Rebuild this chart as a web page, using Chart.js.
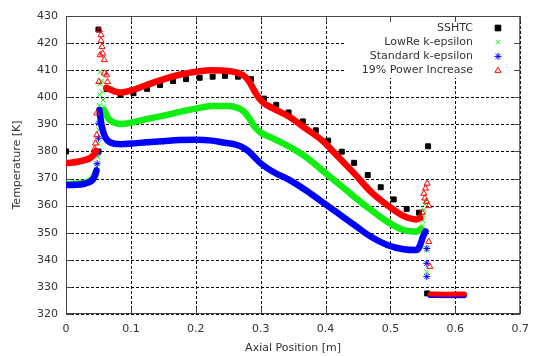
<!DOCTYPE html>
<html>
<head>
<meta charset="utf-8">
<script src="https://cdn.jsdelivr.net/npm/chart.js@4.4.1/dist/chart.umd.min.js"></script>
<style>
  body { margin: 0; background: #fff; }
</style>
</head>
<body>
<canvas id="myChart" width="538" height="356"></canvas>
<script>
// axis ticks
var xTicks = [0, 0.1, 0.2, 0.3, 0.4, 0.5, 0.6, 0.7]
var yTicks = [320, 330, 340, 350, 360, 370, 380, 390, 400, 410, 420, 430]

var seriesNames = ['SSHTC', 'LowRe k-epsilon', 'Standard k-epsilon', '19% Power Increase']

// SSHTC (measured points)
var sshtc = [[0,380],[0.05,380],[0.05,425],[0.063,403],[0.084,400.8],[0.104,401.5],[0.125,403.1],
    [0.145,404.5],[0.165,406],[0.185,406.7],[0.206,407.2],[0.226,407.6],[0.245,407.9],[0.265,407.6],
    [0.285,406.7],[0.305,399.5],[0.324,397.2],[0.343,394.4],[0.365,391.1],[0.385,387.8],[0.404,384],
    [0.425,379.9],[0.444,375.8],[0.465,371.3],[0.485,366.8],[0.505,362.3],[0.525,358.8],[0.544,357.4],
    [0.558,381.9],[0.5565,327.6]]

// LowRe k-epsilon
var lowReLineA = [[0,367.9],[0.02,368.2],[0.035,369],[0.042,370.5],[0.046,372.5]]
var lowReMarks = [[0.0475,374.4],[0.049,378],[0.05,383],[0.0505,388],[0.051,392],[0.0515,397],[0.052,401],
    [0.0525,405],[0.053,409.4],[0.055,406],[0.056,402],[0.057,399],[0.058,396.5]]
var lowReLineB = [[0.059,395.3],[0.065,392.2],[0.075,390.6],[0.085,390.1],[0.1,390.6],[0.125,392],[0.15,393.2],
    [0.175,394.6],[0.2,395.8],[0.225,396.8],[0.25,396.8],[0.265,396],[0.275,394.5],[0.283,392],[0.29,389.3],
    [0.3,387],[0.319,384.8],[0.344,381.8],[0.369,378.1],[0.394,373.2],[0.419,368.3],[0.444,363.3],[0.47,358.4],
    [0.495,354.1],[0.52,351],[0.54,350.4],[0.547,351.5]]
var lowReEnd = [[0.549,352.5],[0.55,354.5],[0.551,356.5],[0.552,358.5],[0.553,360.5],[0.554,361.5],[0.556,343.6],[0.556,335.6]]
var lowReFlat = [[0.561,327.1],[0.614,327.1]]

// Standard k-epsilon
var stdLineA = [[0,367.6],[0.015,367.7],[0.027,368],[0.035,368.6],[0.041,369.5],[0.045,371.3],[0.047,373]]
var stdMarks = [[0.048,375.5],[0.049,379.5],[0.05,384.9],[0.0505,390.4]]
var stdLineB = [[0.0515,395.3],[0.055,389.5],[0.06,385.5],[0.068,383.4],[0.085,382.7],[0.1,382.9],[0.125,383.4],
    [0.15,383.8],[0.175,384.2],[0.2,384.3],[0.225,384],[0.245,383.2],[0.26,382.6],[0.27,381.8],[0.28,380.3],
    [0.29,378],[0.3,375.6],[0.319,372.5],[0.344,369.5],[0.369,365.8],[0.394,361.5],[0.419,357.2],[0.444,352.9],
    [0.47,348.5],[0.495,345.5],[0.52,343.9],[0.54,343.6],[0.545,345],[0.55,348.5],[0.554,350.5]]
var stdEnd = [[0.556,344.2],[0.556,338.7],[0.556,333.8]]
var stdFlat = [[0.561,326.8],[0.614,326.7]]

// 19% Power Increase
var powLineA = [[0,375.7],[0.01,375.9],[0.02,376.3],[0.03,376.9],[0.038,377.7],[0.043,378.8],[0.046,380.2]]
var powMarks = [[0.044,381],[0.0455,383],[0.0475,386.1],[0.0475,394.1],[0.0505,405.7],[0.0525,415.6],[0.0515,424.8],
    [0.054,423],[0.054,420.9],[0.0555,418.7],[0.0565,416.2],[0.059,413.8],[0.059,408.9],[0.0626,408.2],[0.064,405.7]]
var powLineB = [[0.062,403.5],[0.075,402.2],[0.085,401.8],[0.1,402.5],[0.125,404.6],[0.15,406.6],[0.175,408.3],
    [0.2,409.4],[0.225,410],[0.25,409.7],[0.265,409],[0.275,407.8],[0.283,405.5],[0.29,402.5],[0.297,399.8],
    [0.305,397.8],[0.319,395.9],[0.344,392.8],[0.369,388.5],[0.394,384.2],[0.419,378.1],[0.444,371.9],[0.47,365.1],
    [0.495,360.2],[0.52,356.2],[0.54,354.9],[0.546,355.5]]
var powEnd = [[0.549,357.5],[0.5515,364.5],[0.553,362.7],[0.554,366.4],[0.5556,361.5],[0.5566,368.2],[0.559,359.9],
    [0.559,346.7],[0.5606,337.5]]
var powFlat = [[0.5615,327.4],[0.585,327.3],[0.614,327.4]]

var RED = '#ff0000', GREEN = '#11ee11', BLUE = '#0000ff', BLACK = '#000000'

function pts(arr) {
    return arr.map(p => ({ x: p[0], y: p[1] }))
}

function band(arr, color, order, w) {
    return {
        data: pts(arr), showLine: true, borderColor: color, borderWidth: w || 6.5,
        borderCapStyle: 'round', borderJoinStyle: 'round', cubicInterpolationMode: 'monotone',
        pointRadius: 0, order: order
    }
}

function marks(arr, color, style, order, fill) {
    return {
        data: pts(arr), showLine: false, pointStyle: style, pointRadius: 3.5,
        pointBorderColor: color, pointBackgroundColor: fill || 'rgba(0,0,0,0)',
        pointBorderWidth: 1, order: order
    }
}

var legendItems = [
    { text: seriesNames[0], style: 'rect', color: BLACK, fill: BLACK, r: 4 },
    { text: seriesNames[1], style: 'crossRot', color: GREEN, fill: GREEN, r: 3 },
    { text: seriesNames[2], style: 'star', color: BLUE, fill: BLUE, r: 3.5 },
    { text: seriesNames[3], style: 'triangle', color: RED, fill: 'rgba(0,0,0,0)', r: 3.5 }
]

var frame = {
    id: 'frame',
    beforeDatasetsDraw(chart) {
        var ctx = chart.ctx, a = chart.chartArea
        var xs = chart.scales.x, ys = chart.scales.y
        ctx.save()
        // dashed grid
        ctx.strokeStyle = '#000'
        ctx.lineWidth = 1
        ctx.setLineDash([3, 2])
        ctx.beginPath()
        xTicks.forEach(v => {
            var px = Math.round(xs.getPixelForValue(v)) + 0.5
            ctx.moveTo(px, a.top); ctx.lineTo(px, a.bottom)
        })
        yTicks.forEach(v => {
            var py = Math.round(ys.getPixelForValue(v)) + 0.5
            ctx.moveTo(a.left, py); ctx.lineTo(a.right, py)
        })
        ctx.stroke()
        ctx.setLineDash([])
        // key box background
        ctx.fillStyle = '#fff'
        ctx.fillRect(344, 21, 175, 57)
        // border and inward ticks
        ctx.strokeStyle = '#444'
        ctx.strokeRect(a.left + 0.5, a.top + 0.5, a.right - a.left - 1, a.bottom - a.top - 1)
        ctx.beginPath()
        xTicks.forEach(v => {
            var px = Math.round(xs.getPixelForValue(v)) + 0.5
            ctx.moveTo(px, a.bottom); ctx.lineTo(px, a.bottom - 6)
            ctx.moveTo(px, a.top); ctx.lineTo(px, a.top + 6)
        })
        yTicks.forEach(v => {
            var py = Math.round(ys.getPixelForValue(v)) + 0.5
            ctx.moveTo(a.left, py); ctx.lineTo(a.left + 6, py)
            ctx.moveTo(a.right, py); ctx.lineTo(a.right - 6, py)
        })
        ctx.stroke()
        ctx.restore()
    },
    afterDraw(chart) {
        var ctx = chart.ctx
        ctx.save()
        ctx.font = '11px "DejaVu Sans"'
        ctx.textAlign = 'right'
        ctx.textBaseline = 'middle'
        legendItems.forEach((it, i) => {
            var y = 28 + i * 14.2
            ctx.fillStyle = '#333'
            ctx.fillText(it.text, 473, y)
            ctx.strokeStyle = it.color
            ctx.fillStyle = it.fill
            ctx.lineWidth = 1
            Chart.helpers.drawPoint(ctx, { pointStyle: it.style, radius: it.r, rotation: 0, borderWidth: 1 }, 498, y)
        })
        ctx.restore()
    }
}

var ctx = document.getElementById('myChart')
var myChart = new Chart(ctx, {
    type: 'scatter',
    data: {
        datasets: [
            marks(sshtc, BLACK, 'rect', 3, BLACK),
            band(lowReLineA, GREEN, 2),
            marks(lowReMarks, GREEN, 'crossRot', 2),
            band(lowReLineB, GREEN, 2),
            marks(lowReEnd, GREEN, 'crossRot', 2),
            band(lowReFlat, GREEN, 2, 5),
            band(stdLineA, BLUE, 1),
            marks(stdMarks, BLUE, 'star', 1),
            band(stdLineB, BLUE, 1),
            marks(stdEnd, BLUE, 'star', 1),
            band(stdFlat, BLUE, 1, 5),
            band(powLineA, RED, 0),
            marks(powMarks, RED, 'triangle', 0),
            band(powLineB, RED, 0),
            marks(powEnd, RED, 'triangle', 0),
            band(powFlat, RED, 0, 5)
        ]
    },
    options: {
        responsive: false,
        animation: false,
        layout: { padding: { left: 0, top: 16, right: 10, bottom: 0 } },
        plugins: { legend: { display: false }, tooltip: { enabled: false } },
        scales: {
            x: {
                type: 'linear', min: 0, max: 0.7,
                afterBuildTicks: s => { s.ticks = xTicks.map(v => ({ value: v })) },
                afterFit: s => { s.height = 42 },
                ticks: { padding: 9, color: '#333', font: { family: 'DejaVu Sans', size: 11 }, callback: v => String(v) },
                grid: { display: false, drawTicks: false },
                border: { display: false },
                title: { display: true, text: 'Axial Position [m]', color: '#333',
                    font: { family: 'DejaVu Sans', size: 11 }, padding: { top: 0, bottom: 1 } }
            },
            y: {
                type: 'linear', min: 320, max: 430,
                afterBuildTicks: s => { s.ticks = yTicks.map(v => ({ value: v })) },
                afterFit: s => { s.width = 66 },
                ticks: { padding: 8, color: '#333', font: { family: 'DejaVu Sans', size: 11 }, callback: v => String(v) },
                grid: { display: false, drawTicks: false },
                border: { display: false },
                title: { display: true, text: 'Temperature [K]', color: '#333',
                    font: { family: 'DejaVu Sans', size: 11 }, padding: { top: 11, bottom: 0 } }
            }
        }
    },
    plugins: [frame]
})
</script>
</body>
</html>
